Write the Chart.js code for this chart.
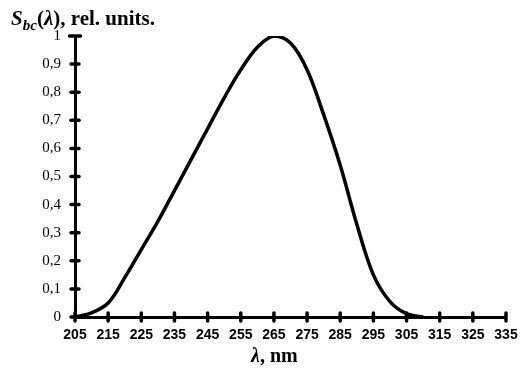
<!DOCTYPE html>
<html><head><meta charset="utf-8">
<script src="https://cdn.jsdelivr.net/npm/chart.js@4"></script>
<style>
html,body{margin:0;padding:0;background:#fff;}
#wrap{position:relative;width:520px;height:376px;overflow:hidden;}
canvas{position:absolute;left:0;top:0;}
.t{position:absolute;font-family:"Liberation Serif","Times New Roman",serif;font-weight:bold;color:#000;white-space:nowrap;line-height:1;}
.t sub{font-size:0.72em;vertical-align:baseline;position:relative;top:0.3em;}
</style></head><body>
<div id="wrap">
<canvas id="c" width="520" height="376"></canvas>
<div class="t" id="yt" style="left:11px;top:8px;font-size:21px;"><i>S<sub>bc</sub></i>(<i>λ</i>), rel. units.</div>
<div class="t" id="xt" style="left:251px;top:345px;font-size:20px;"><i>λ</i>, nm</div>
</div>
<script>
// wavelength, nm
const wavelengths = [205,210,215,220,225,230,235,240,245,250,255,260,265,270,275,280,285,290,295,300,305,310];
// relative sensitivity S_bc(λ)
const sensitivity = [0,0.015,0.05,0.14,0.24,0.34,0.45,0.56,0.67,0.78,0.88,0.96,1.0,0.975,0.88,0.72,0.54,0.33,0.15,0.055,0.012,0];
const xTickValues = [205,215,225,235,245,255,265,275,285,295,305,315,325,335];
const yTickValues = [0,0.1,0.2,0.3,0.4,0.5,0.6,0.7,0.8,0.9,1];
const yTickLabels = ['0','0,1','0,2','0,3','0,4','0,5','0,6','0,7','0,8','0,9','1'];

const crossTicks = {
  id:'crossTicks',
  afterDraw(chart){
    const {ctx, scales:{x,y}} = chart;
    const x0 = x.getPixelForValue(xTickValues[0]);
    const y0 = y.getPixelForValue(0);
    ctx.save();
    ctx.strokeStyle='#000';
    ctx.lineWidth=3.5;
    ctx.lineCap='round';
    y.ticks.forEach(t=>{
      const py = y.getPixelForValue(t.value);
      const hw = t.value===1 ? 5.5 : 4;
      ctx.beginPath(); ctx.moveTo(x0-hw,py); ctx.lineTo(x0+hw,py); ctx.stroke();
    });
    x.ticks.forEach(t=>{
      const px = x.getPixelForValue(t.value);
      ctx.beginPath(); ctx.moveTo(px,y0-4); ctx.lineTo(px,y0+4); ctx.stroke();
    });
    ctx.restore();
  }
};

new Chart(document.getElementById('c'), {
  type:'line',
  data:{
    datasets:[{
      data: wavelengths.map((w,i)=>({x:w,y:sensitivity[i]})),
      borderColor:'#000',
      borderWidth:3.5,
      pointRadius:0,
      fill:false,
      tension:0.35
    }]
  },
  options:{
    responsive:false,
    animation:false,
    events:[],
    layout:{padding:{left:0,top:36,right:14,bottom:29}},
    plugins:{legend:{display:false},tooltip:{enabled:false},title:{display:false}},
    scales:{
      x:{
        type:'linear',
        min:205,max:335,
        grid:{display:false,drawTicks:false},
        border:{display:true,color:'#000',width:3},
        afterBuildTicks(s){ s.ticks = xTickValues.map(v=>({value:v})); },
        afterFit(s){ s.height=30; s.paddingLeft=0; s.paddingRight=0; },
        ticks:{
          autoSkip:false,maxRotation:0,padding:10,color:'#000',
          font:{family:'"Liberation Sans", Arial, sans-serif',size:14,weight:'bold'},
          callback:(v)=>String(v)
        }
      },
      y:{
        type:'linear',
        min:0,max:1,
        grid:{display:false,drawTicks:false},
        border:{display:true,color:'#000',width:3},
        afterBuildTicks(s){ s.ticks = yTickValues.map(v=>({value:v})); },
        afterFit(s){ s.width=75; s.paddingTop=0; s.paddingBottom=0; },
        ticks:{
          autoSkip:false,padding:14,color:'#000',
          font:{family:'"Liberation Serif", "Times New Roman", serif',size:15},
          callback:(v)=>{ const i = yTickValues.findIndex(t=>Math.abs(t-v)<1e-6); return i>=0 ? yTickLabels[i] : ''; }
        }
      }
    }
  },
  plugins:[crossTicks]
});
</script>
</body></html>
